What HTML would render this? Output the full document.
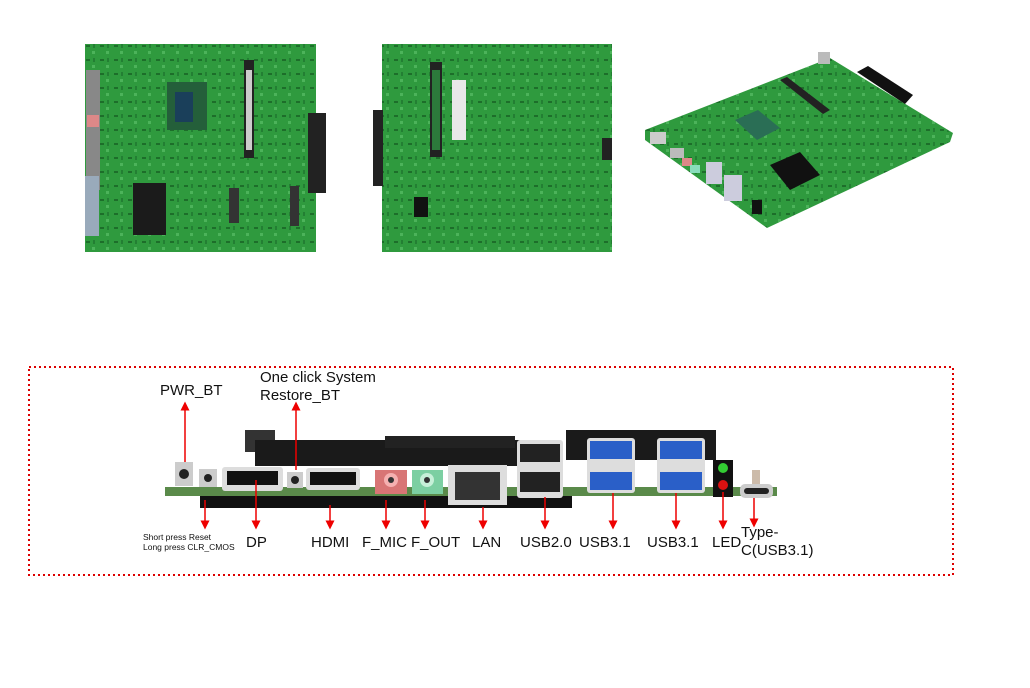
<!DOCTYPE html>
<html><head><meta charset="utf-8"><style>
html,body{margin:0;padding:0;background:#fff;width:1030px;height:688px;overflow:hidden}
svg{display:block}
text{font-family:"Liberation Sans",sans-serif;fill:#111}
</style></head><body>
<svg width="1030" height="688" viewBox="0 0 1030 688" xmlns="http://www.w3.org/2000/svg">
<defs>
<marker id="a" markerWidth="6" markerHeight="6" refX="3" refY="3" orient="auto"><path d="M0,0 L6,3 L0,6 z" fill="#e00"/></marker>
<pattern id="g" width="14" height="14" patternUnits="userSpaceOnUse"><rect width="14" height="14" fill="#2f9a3e"/><rect x="2" y="3" width="4" height="2" fill="#1d6e2a"/><rect x="8" y="9" width="3" height="3" fill="#4cb35a"/><rect x="9" y="2" width="2" height="4" fill="#237f33"/></pattern>
</defs>
<!-- board 1 -->
<rect x="85" y="44" width="231" height="208" fill="url(#g)"/>
<rect x="167" y="82" width="40" height="48" fill="#245f3a"/><rect x="175" y="92" width="18" height="30" fill="#1a3f5a"/>
<rect x="244" y="60" width="10" height="98" fill="#222"/><rect x="246" y="70" width="6" height="80" fill="#ccc"/>
<rect x="308" y="113" width="18" height="80" fill="#222"/>
<rect x="133" y="183" width="33" height="52" fill="#1b1b1b"/>
<rect x="229" y="188" width="10" height="35" fill="#333"/><rect x="290" y="186" width="9" height="40" fill="#333"/>
<rect x="86" y="70" width="14" height="120" fill="#888"/><rect x="87" y="115" width="12" height="12" fill="#d88"/>
<rect x="85" y="176" width="14" height="60" fill="#9ab"/>
<!-- board 2 -->
<rect x="382" y="44" width="230" height="208" fill="url(#g)"/>
<rect x="373" y="110" width="10" height="76" fill="#222"/>
<rect x="430" y="62" width="12" height="95" fill="#222"/><rect x="432" y="70" width="8" height="80" fill="#2c7a3b"/>
<rect x="452" y="80" width="14" height="60" fill="#e8e8e8"/>
<rect x="414" y="197" width="14" height="20" fill="#111"/>
<rect x="602" y="138" width="10" height="22" fill="#222"/>
<!-- board 3 isometric -->
<polygon points="645,130 830,58 953,133 950,142 767,228 645,140" fill="url(#g)"/>
<polygon points="770,165 800,152 820,175 790,190" fill="#111"/>
<polygon points="735,120 758,110 780,128 757,140" fill="#2a6e55"/>
<polygon points="857,72 868,66 913,95 905,104" fill="#111"/>
<polygon points="780,80 787,77 830,110 823,114" fill="#222"/>
<rect x="818" y="52" width="12" height="12" fill="#bbb"/>
<rect x="650" y="132" width="16" height="12" fill="#ccc"/>
<rect x="670" y="148" width="14" height="10" fill="#bbb"/>
<rect x="682" y="158" width="10" height="8" fill="#d88"/><rect x="690" y="165" width="10" height="8" fill="#8db"/>
<rect x="706" y="162" width="16" height="22" fill="#ccd"/><rect x="724" y="175" width="18" height="26" fill="#ccd"/>
<rect x="752" y="200" width="10" height="14" fill="#111"/>
<!-- dashed frame -->
<rect x="29" y="367" width="924" height="208" fill="none" stroke="#d00" stroke-width="2" stroke-dasharray="2,3"/>
<!-- bottom board -->
<rect x="245" y="430" width="30" height="22" fill="#333"/>
<rect x="255" y="440" width="265" height="26" fill="#1a1a1a"/>
<rect x="385" y="436" width="130" height="12" fill="#222"/>
<rect x="566" y="430" width="150" height="30" fill="#1a1a1a"/>
<rect x="200" y="495" width="372" height="13" fill="#111"/>
<rect x="165" y="487" width="612" height="9" fill="#5a8a4a"/>
<rect x="175" y="462" width="18" height="24" fill="#ccc"/><circle cx="184" cy="474" r="5" fill="#222"/>
<rect x="199" y="469" width="18" height="18" fill="#ccc"/><circle cx="208" cy="478" r="4" fill="#222"/>
<rect x="222" y="467" width="61" height="24" rx="3" fill="#ddd"/><rect x="227" y="471" width="51" height="14" fill="#111"/>
<rect x="287" y="472" width="16" height="16" fill="#ccc"/><circle cx="295" cy="480" r="4" fill="#222"/>
<rect x="306" y="468" width="54" height="22" rx="3" fill="#ddd"/><rect x="310" y="472" width="46" height="13" fill="#111"/>
<rect x="375" y="470" width="32" height="24" fill="#d87575"/><circle cx="391" cy="480" r="7" fill="#f5b0b0"/><circle cx="391" cy="480" r="3" fill="#333"/>
<rect x="412" y="470" width="31" height="24" fill="#7ccfa2"/><circle cx="427" cy="480" r="7" fill="#c6f0d8"/><circle cx="427" cy="480" r="3" fill="#333"/>
<rect x="448" y="465" width="59" height="40" fill="#ddd"/><rect x="455" y="472" width="45" height="28" fill="#333"/>
<rect x="517" y="440" width="46" height="58" rx="3" fill="#ddd"/><rect x="520" y="444" width="40" height="18" fill="#222"/><rect x="520" y="472" width="40" height="20" fill="#222"/>
<rect x="587" y="438" width="48" height="55" rx="3" fill="#ddd"/><rect x="590" y="441" width="42" height="18" fill="#2a5fc8"/><rect x="590" y="472" width="42" height="18" fill="#2a5fc8"/>
<rect x="657" y="438" width="48" height="55" rx="3" fill="#ddd"/><rect x="660" y="441" width="42" height="18" fill="#2a5fc8"/><rect x="660" y="472" width="42" height="18" fill="#2a5fc8"/>
<rect x="713" y="460" width="20" height="37" fill="#111"/><circle cx="723" cy="468" r="5" fill="#3c3"/><circle cx="723" cy="485" r="5" fill="#d11"/>
<rect x="740" y="484" width="33" height="14" rx="5" fill="#ccc"/><rect x="744" y="488" width="25" height="6" rx="3" fill="#222"/>
<rect x="752" y="470" width="8" height="14" fill="#cba"/>
<!-- arrows -->
<g stroke="#e00" stroke-width="1.5" fill="none">
<line x1="185" y1="462" x2="185" y2="406" marker-end="url(#a)"/>
<line x1="296" y1="470" x2="296" y2="406" marker-end="url(#a)"/>
<line x1="205" y1="500" x2="205" y2="525" marker-end="url(#a)"/>
<line x1="256" y1="480" x2="256" y2="525" marker-end="url(#a)"/>
<line x1="330" y1="505" x2="330" y2="525" marker-end="url(#a)"/>
<line x1="386" y1="500" x2="386" y2="525" marker-end="url(#a)"/>
<line x1="425" y1="500" x2="425" y2="525" marker-end="url(#a)"/>
<line x1="483" y1="507" x2="483" y2="525" marker-end="url(#a)"/>
<line x1="545" y1="497" x2="545" y2="525" marker-end="url(#a)"/>
<line x1="613" y1="493" x2="613" y2="525" marker-end="url(#a)"/>
<line x1="676" y1="493" x2="676" y2="525" marker-end="url(#a)"/>
<line x1="723" y1="492" x2="723" y2="525" marker-end="url(#a)"/>
<line x1="754" y1="498" x2="754" y2="523" marker-end="url(#a)"/>
</g>
<!-- labels -->
<g font-size="15">
<text x="160" y="395">PWR_BT</text>
<text x="260" y="382">One click System</text>
<text x="260" y="400">Restore_BT</text>
<text x="246" y="547">DP</text>
<text x="311" y="547">HDMI</text>
<text x="362" y="547">F_MIC</text>
<text x="411" y="547">F_OUT</text>
<text x="472" y="547">LAN</text>
<text x="520" y="547">USB2.0</text>
<text x="579" y="547">USB3.1</text>
<text x="647" y="547">USB3.1</text>
<text x="712" y="547">LED</text>
<text x="741" y="537">Type-</text>
<text x="741" y="555">C(USB3.1)</text>
</g>
<text x="143" y="540" font-size="8.5">Short press Reset</text>
<text x="143" y="550" font-size="8.5">Long press CLR_CMOS</text>
</svg>
</body></html>
